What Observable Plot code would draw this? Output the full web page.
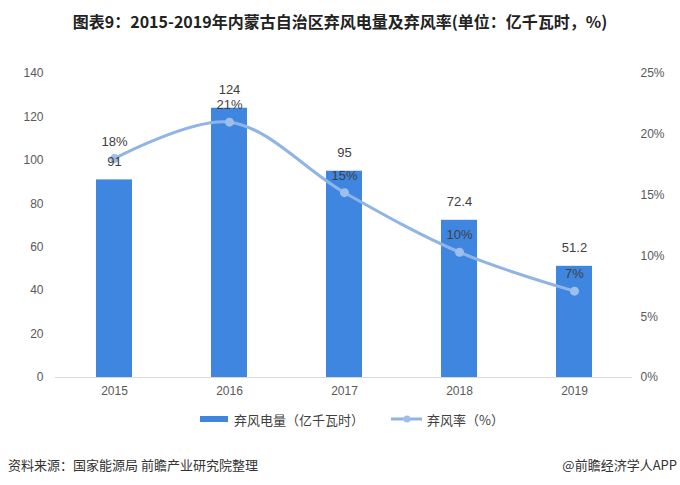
<!DOCTYPE html>
<html><head><meta charset="utf-8">
<script src="https://cdn.jsdelivr.net/npm/d3@7"></script>
<script src="https://cdn.jsdelivr.net/npm/@observablehq/plot@0.6"></script>
<style>
body{margin:0;background:#fff;font-family:"Noto Sans CJK SC","Noto Sans",sans-serif;}
#wrap{position:relative;width:680px;height:485px;overflow:hidden;background:#fff}
#title{position:absolute;top:0;left:0;width:680px;height:42px;line-height:42px;text-align:center;font-weight:bold;font-size:16px;color:#222}
#chart{position:absolute;top:40px;left:0}
#legend{position:absolute;top:407px;left:12px;width:680px;height:24px;display:flex;justify-content:center;align-items:center;font-size:13px;color:#404040}
.item{display:flex;align-items:center}
#source{position:absolute;left:8px;top:455px;font-size:13px;color:#333;line-height:20px}
#brand{position:absolute;right:3px;top:455px;font-size:13px;color:#333;line-height:20px}
</style></head>
<body>
<div id="wrap">
<div id="title">图表9：2015-2019年内蒙古自治区弃风电量及弃风率(单位：亿千瓦时，%)</div>
<div id="chart"></div>
<div id="legend">
 <div class="item"><svg width="34" height="10"><rect x="0" y="2" width="28" height="6" fill="#3f86e0"/></svg><span>弃风电量（亿千瓦时）</span></div>
 <div class="item" style="margin-left:27px"><svg width="36" height="10"><line x1="0" y1="5" x2="31" y2="5" stroke="#8fb5e6" stroke-width="3"/><circle cx="16" cy="5" r="3.5" fill="#9dbfea"/></svg><span>弃风率（%）</span></div>
</div>
<div id="source">资料来源：国家能源局 前瞻产业研究院整理</div>
<div id="brand">@前瞻经济学人APP</div>
</div>
<script>
const years = ["2015","2016","2017","2018","2019"];
const curtailed = [91, 124, 95, 72.4, 51.2];
const rates = [18, 21, 15.2, 10.3, 7.1];
const leftTicks = [0,20,40,60,80,100,120,140];
const rightTicks = [0,5,10,15,20,25];

const yMax = 140, rMax = 25;
const toY = r => r * yMax / rMax;
const rows = years.map((y,i)=>({year:y, value:curtailed[i], rate:rates[i]}));

const chart = Plot.plot({
  width: 680, height: 365,
  marginTop: 33, marginBottom: 28, marginLeft: 55, marginRight: 48,
  style: {fontFamily: '"Liberation Sans","Noto Sans CJK SC",sans-serif', fontSize: "12px", color: "#595959", background: "transparent"},
  x: {domain: years, paddingInner: 0.69, paddingOuter: 0.34, label: null},
  y: {domain: [0, yMax], label: null},
  marks: [
    Plot.barY(rows, {x: "year", y: "value", fill: "#3f86e0"}),
    Plot.ruleY([0], {stroke: "#d9d9d9"}),
    Plot.axisX({tickSize: 0, tickPadding: 9, label: null}),
    Plot.axisY({ticks: leftTicks, tickSize: 0, tickPadding: 12, label: null}),
    Plot.axisY(rightTicks.map(toY), {anchor: "right", tickSize: 0, tickPadding: 8, label: null,
      tickFormat: d => Math.round(d * rMax / yMax) + "%"}),
    Plot.line(rows, {x: "year", y: d => toY(d.rate), stroke: "#8fb5e6", strokeWidth: 3, curve: "catmull-rom"}),
    Plot.dot(rows, {x: "year", y: d => toY(d.rate), r: 4.5, fill: "#9dbfea"}),
    Plot.text(rows, {x: "year", y: "value", text: d => String(d.value), dy: -18, fontSize: 13, fill: "#404040"}),
    Plot.text(rows, {x: "year", y: d => toY(d.rate), text: d => Math.round(d.rate) + "%", dy: -17, fontSize: 13, fill: "#404040"})
  ]
});
document.getElementById("chart").appendChild(chart);
</script>
</body></html>
